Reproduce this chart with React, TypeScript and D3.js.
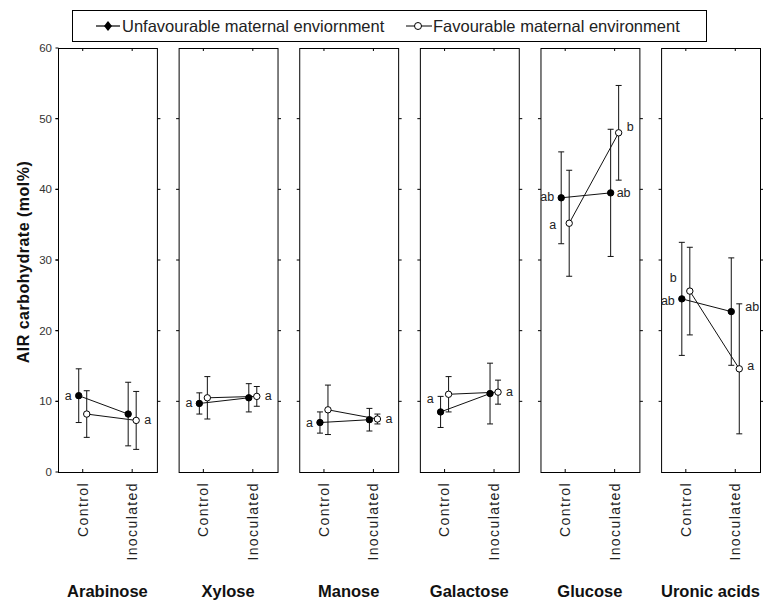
import React from 'react';
import * as d3 from 'd3';

const categories = ['Arabinose', 'Xylose', 'Manose', 'Galactose', 'Glucose', 'Uronic acids'];
const treatments = ['Control', 'Inoculated'];
const yTicks = [0, 10, 20, 30, 40, 50, 60];

// means and error bar half-widths
const unfavControl = [10.8, 9.7, 7.0, 8.5, 38.8, 24.5];
const unfavControlErr = [3.8, 1.5, 1.5, 2.2, 6.5, 8.0];
const unfavInoc = [8.2, 10.5, 7.4, 11.1, 39.5, 22.7];
const unfavInocErr = [4.5, 2.0, 1.6, 4.3, 9.0, 7.6];
const favControl = [8.2, 10.5, 8.8, 11.0, 35.2, 25.6];
const favControlErr = [3.3, 3.0, 3.5, 2.5, 7.5, 6.2];
const favInoc = [7.3, 10.7, 7.5, 11.3, 48.0, 14.6];
const favInocErr = [4.1, 1.4, 0.7, 1.7, 6.7, 9.2];

// significance letters
const unfavControlLetter = ['a', 'a', 'a', 'a', 'ab', 'ab'];
const favControlLetter = ['', '', '', '', 'a', 'b'];
const unfavInocLetter = ['', '', '', '', 'ab', 'ab'];
const favInocLetter = ['a', 'a', 'a', 'a', 'b', 'a'];

const FONT = '"Liberation Sans", Arial, sans-serif';

const App = () => {
  const width = 763;
  const height = 604;
  const top = 48;
  const bottom = 472;

  const y = d3.scaleLinear().domain([0, 60]).range([bottom, top]);
  const panel = d3.scaleBand().domain(categories).range([58, 760]).paddingInner(0.18);
  const bw = panel.bandwidth();
  const inner = d3.scalePoint().domain(treatments).range([0, bw]).padding(0.5);
  const off = 4;

  const series = [
    { key: 'unfav', ctrl: unfavControl, ctrlErr: unfavControlErr, inoc: unfavInoc, inocErr: unfavInocErr, dx: -off, fill: '#000' },
    { key: 'fav', ctrl: favControl, ctrlErr: favControlErr, inoc: favInoc, inocErr: favInocErr, dx: off, fill: '#fff' },
  ];

  const errBar = (x: number, m: number, e: number, k: string) => (
    <g key={k} stroke="#111" strokeWidth={1}>
      <line x1={x} x2={x} y1={y(m + e)} y2={y(m - e)} />
      <line x1={x - 3} x2={x + 3} y1={y(m + e)} y2={y(m + e)} />
      <line x1={x - 3} x2={x + 3} y1={y(m - e)} y2={y(m - e)} />
    </g>
  );

  // small nudges for the hand-placed letters in the original
  const ctrlNudgeY: Record<string, number[]> = { unfav: [0, 0, 0, -13, -1, 2], fav: [0, 0, 0, 0, 2, -13] };
  const inocNudge = { unfav: [0, 0, 0, 0, -8, 0], unfavY: [0, 0, 0, 0, 0, -5], favY: [0, 0, 0, 0, -6, -3] };

  return (
    <svg width={width} height={height} style={{ position: 'absolute', left: 0, top: 0, fontFamily: FONT }}>
      <rect x={0} y={0} width={width} height={height} fill="#fff" />

      {/* legend */}
      <g>
        <rect x={72.5} y={10.5} width={634} height={31} fill="#fff" stroke="#000" strokeWidth={1} />
        <line x1={96} x2={120} y1={26} y2={26} stroke="#000" strokeWidth={1.2} />
        <path d="M108,21 L112,26 L108,31 L104,26 Z" fill="#000" />
        <text x={122} y={32} fontSize={16.5} fill="#222">Unfavourable maternal enviornment</text>
        <line x1={406} x2={432} y1={26} y2={26} stroke="#000" strokeWidth={1} />
        <circle cx={418} cy={26} r={3.5} fill="#fff" stroke="#000" strokeWidth={1} />
        <text x={433} y={32} fontSize={16.5} fill="#222">Favourable maternal environment</text>
      </g>

      {/* y axis labels and title */}
      {yTicks.map(t => (
        <text key={'yl' + t} x={52} y={y(t) + 4} textAnchor="end" fontSize={11.5} fill="#333">{t}</text>
      ))}
      <text transform={`translate(29,${(top + bottom) / 2 + 2}) rotate(-90)`} textAnchor="middle" fontSize={16} letterSpacing={0.5} fontWeight="bold" fill="#111">
        AIR carbohydrate (mol%)
      </text>

      {categories.map((c, i) => {
        const x0 = panel(c) as number;
        const xc = x0 + (inner('Control') as number);
        const xi = x0 + (inner('Inoculated') as number);
        return (
          <g key={c}>
            <rect x={x0 + 0.5} y={top + 0.5} width={bw} height={bottom - top} fill="none" stroke="#000" strokeWidth={1} />
            {yTicks.slice(1, -1).map(t => (
              <g key={'t' + t} stroke="#000">
                <line x1={x0 - 2.5} x2={x0 + 0.5} y1={y(t)} y2={y(t)} />
                <line x1={x0 + bw + 0.5} x2={x0 + bw + 3.5} y1={y(t)} y2={y(t)} />
              </g>
            ))}
            {yTicks.map(t => i === 0 ? (
              <line key={'a' + t} x1={x0 - 2.5} x2={x0 + 0.5} y1={y(t)} y2={y(t)} stroke="#000" />
            ) : null)}
            {treatments.map(tr => {
              const tx = x0 + (inner(tr) as number);
              return (
                <g key={tr}>
                  <line x1={tx} x2={tx} y1={bottom} y2={bottom - 3} stroke="#000" />
                  <line x1={tx} x2={tx} y1={top} y2={top + 3} stroke="#000" />
                  <text transform={`translate(${tx},${bottom + 10}) rotate(-90)`} textAnchor="end" dy="0.35em" fontSize={14} letterSpacing={1.4} fill="#222">{tr}</text>
                </g>
              );
            })}

            {series.map(s => (
              <g key={s.key}>
                {errBar(xc + s.dx, s.ctrl[i], s.ctrlErr[i], 'ec')}
                {errBar(xi + s.dx, s.inoc[i], s.inocErr[i], 'ei')}
                <line x1={xc + s.dx} x2={xi + s.dx} y1={y(s.ctrl[i])} y2={y(s.inoc[i])} stroke="#111" strokeWidth={1} />
              </g>
            ))}
            {series.map(s => (
              <g key={s.key + 'p'}>
                <circle cx={xc + s.dx} cy={y(s.ctrl[i])} r={3.2} fill={s.fill} stroke="#000" strokeWidth={1} />
                <circle cx={xi + s.dx} cy={y(s.inoc[i])} r={3.2} fill={s.fill} stroke="#000" strokeWidth={1} />
              </g>
            ))}

            {/* letters */}
            <g fontSize={12.5} fill="#222">
              <text x={xc - off - 7} y={y(unfavControl[i]) + 4 + ctrlNudgeY.unfav[i]} textAnchor="end">{unfavControlLetter[i]}</text>
              <text x={xc + off - 13} y={y(favControl[i]) + 4 + ctrlNudgeY.fav[i]} textAnchor="end">{favControlLetter[i]}</text>
              <text x={xi + off + 8} y={y(favInoc[i]) + 4 + inocNudge.favY[i]}>{favInocLetter[i]}</text>
              <text x={xi + off + 6 + inocNudge.unfav[i]} y={y(unfavInoc[i]) + 4 + inocNudge.unfavY[i]}>{unfavInocLetter[i]}</text>
            </g>

            <text x={x0 + bw / 2} y={597} textAnchor="middle" fontSize={16.5} fontWeight="bold" fill="#111">{c}</text>
          </g>
        );
      })}
    </svg>
  );
};

export default App;
